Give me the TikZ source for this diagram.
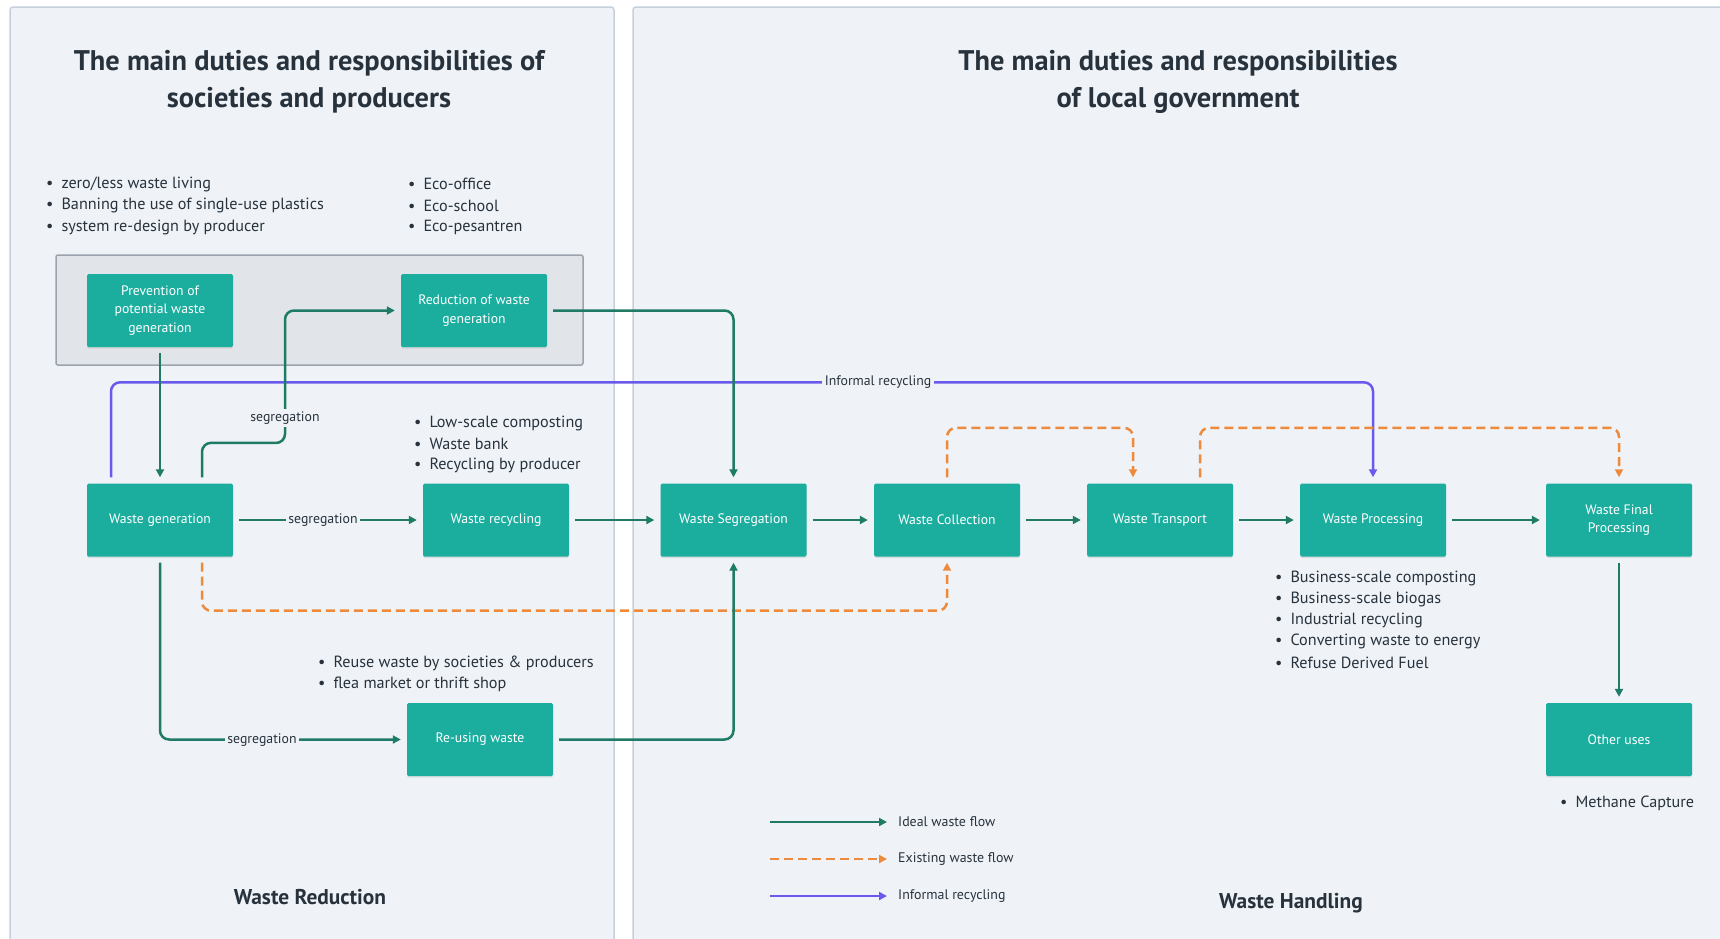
\documentclass[tikz,border=0pt]{standalone}
\usepackage{fontspec}
\setmainfont{PT Sans}
\usetikzlibrary{arrows.meta,calc,shadows}

\definecolor{panelfill}{HTML}{EFF3F7}
\definecolor{panelline}{HTML}{C6D0DB}
\definecolor{groupfill}{HTML}{E1E5E9}
\definecolor{groupline}{HTML}{9BA4AE}
\definecolor{stage}{HTML}{1BAE9F}
\definecolor{ideal}{HTML}{1F7A66}
\definecolor{existing}{HTML}{EE8A3C}
\definecolor{informal}{HTML}{6A5AEC}
\definecolor{ink}{HTML}{27323D}

\begin{document}
\begin{tikzpicture}[x=1pt,y=-1pt,
  panel/.style={fill=panelfill, draw=panelline, line width=1.5pt, rounded corners=3pt},
  stagebox/.style={rectangle, fill=stage, minimum width=146pt, minimum height=73pt,
    inner sep=2pt, text=white, align=center, font=\fontsize{13.7}{18.5}\selectfont,
    rounded corners=1.5pt,
    drop shadow={opacity=0.18, shadow xshift=0pt, shadow yshift=-1.5pt}},
  tip/.style={-{Triangle[length=8pt,width=8pt]}},
  flowline/.style={line width=2.5pt, rounded corners=9pt, shorten >=6pt, shorten <=6pt, tip},
  idealflow/.style={flowline, draw=ideal},
  existflow/.style={flowline, draw=existing, dash pattern=on 9pt off 5pt},
  informflow/.style={flowline, draw=informal},
  edgelabel/.style={fill=panelfill, inner sep=2.5pt, text=ink, font=\fontsize{13.8}{16}\selectfont},
  heading/.style={align=center, text=ink, font=\fontsize{28.4}{37}\selectfont\bfseries},
  footing/.style={text=ink, font=\fontsize{21.4}{24}\selectfont\bfseries},
  bulletitem/.style={anchor=west, inner sep=0pt, text=ink, font=\fontsize{16.2}{18}\selectfont},
  legendtext/.style={anchor=west, inner sep=0pt, text=ink, font=\fontsize{13.9}{16}\selectfont}
]
\clip (0,0) rectangle (1720,938);
\fill[white] (0,0) rectangle (1720,938);

% panels
\draw[panel] (10,7) rectangle (614,960);
\draw[panel] (633,7) rectangle (1740,960);

% panel headings
\node[heading] (headL) at (309,81.5) {The main duties and responsibilities of\\societies and producers};
\node[heading] (headR) at (1178,81.5) {The main duties and responsibilities\\of local government};
\node[footing] (footL) at (310,897) {Waste Reduction};
\node[footing] (footR) at (1291,903) {Waste Handling};

% prevention / reduction group
\draw[fill=groupfill, draw=groupline, line width=1.5pt, rounded corners=2pt] (56,255) rectangle (583,365);

% stages
\node[stagebox] (prev) at (160,310.5) {Prevention of\\potential waste\\generation};
\node[stagebox] (red) at (474,310.5) {Reduction of waste\\generation};
\node[stagebox] (gen) at (160,520) {Waste generation};
\node[stagebox] (rec) at (496,520) {Waste recycling};
\node[stagebox] (reuse) at (480,739.5) {Re-using waste};
\node[stagebox] (seg) at (733.5,520) {Waste Segregation};
\node[stagebox] (col) at (947,520) {Waste Collection};
\node[stagebox] (tra) at (1160,520) {Waste Transport};
\node[stagebox] (pro) at (1373,520) {Waste Processing};
\node[stagebox] (fin) at (1619,520) {Waste Final\\Processing};
\node[stagebox] (oth) at (1619,739.5) {Other uses};

% informal recycling
\draw[informflow] ($(gen.north)+(-49,0)$) -- ++(0,-101) -| (pro.north);
\node[edgelabel] (infl) at (878,382.5) {Informal recycling};

% existing flows
\draw[existflow] ($(gen.south)+(42,0)$) -- ++(0,54) -| (col.south);
\draw[existflow] (col.north) -- ++(0,-55.5) -| ($(tra.north)+(-27,0)$);
\draw[existflow] ($(tra.north)+(40,0)$) -- ++(0,-55.5) -| (fin.north);

% ideal flows
\draw[idealflow] (prev) -- (gen);
\draw[idealflow] ($(gen.north)+(42,0)$) -- ++(0,-40.5) -- (285,443) -- (285,310.5) -- (red.west);
\node[edgelabel] (segA) at (285,418) {segregation};
\draw[idealflow] (red.east) -| (seg.north);
\draw[idealflow] (gen) -- (rec);
\node[edgelabel] (segB) at (323,520) {segregation};
\draw[idealflow] (gen.south) |- (reuse.west);
\node[edgelabel] (segC) at (262,740) {segregation};
\draw[idealflow] (reuse.east) -| (seg.south);
\draw[idealflow] (rec) -- (seg);
\draw[idealflow] (seg) -- (col);
\draw[idealflow] (col) -- (tra);
\draw[idealflow] (tra) -- (pro);
\draw[idealflow] (pro) -- (fin);
\draw[idealflow] (fin) -- (oth);

% bullet lists
\foreach \t [count=\i from 0] in {zero/less waste living, Banning the use of single-use plastics, system re-design by producer}
  \node[bulletitem] (lifeA\i) at (46,184+21.5*\i) {•\hspace{8pt}\t};
\foreach \t [count=\i from 0] in {Eco-office, Eco-school, Eco-pesantren}
  \node[bulletitem] (eco\i) at (408,184+21.5*\i) {•\hspace{8pt}\t};
\foreach \t [count=\i from 0] in {Low-scale composting, Waste bank, Recycling by producer}
  \node[bulletitem] (recy\i) at (414,423+21*\i) {•\hspace{8pt}\t};
\foreach \t [count=\i from 0] in {Reuse waste by societies \& producers, flea market or thrift shop}
  \node[bulletitem] (reus\i) at (318,663+21*\i) {•\hspace{8pt}\t};
\foreach \t [count=\i from 0] in {Business-scale composting, Business-scale biogas, Industrial recycling, Converting waste to energy, Refuse Derived Fuel}
  \node[bulletitem] (proc\i) at (1275,578+21.2*\i) {•\hspace{8pt}\t};
\node[bulletitem] (meth) at (1560,803) {•\hspace{8pt}Methane Capture};

% legend
\coordinate (lgA1) at (770,822); \coordinate (lgA2) at (887,822);
\coordinate (lgB1) at (770,859); \coordinate (lgB2) at (887,859);
\coordinate (lgC1) at (770,896); \coordinate (lgC2) at (887,896);
\draw[line width=2.5pt, draw=ideal, tip] (lgA1) -- (lgA2);
\draw[line width=2.5pt, draw=existing, dash pattern=on 9pt off 5pt, tip] (lgB1) -- (lgB2);
\draw[line width=2.5pt, draw=informal, tip] (lgC1) -- (lgC2);
\node[legendtext] (lgA) at (898,822) {Ideal waste flow};
\node[legendtext] (lgB) at (898,859) {Existing waste flow};
\node[legendtext] (lgC) at (898,896) {Informal recycling};
\end{tikzpicture}
\end{document}
